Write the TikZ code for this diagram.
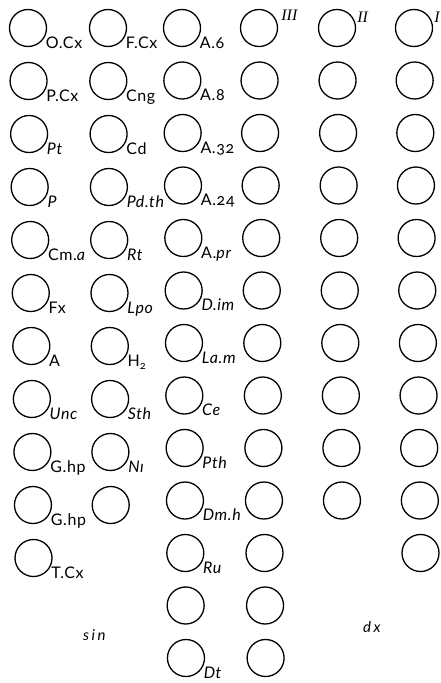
\documentclass[tikz,border=0pt]{standalone}
\usepackage{fontspec}
\setmainfont{Lato}[Numbers=OldStyle,LetterSpace=4]
\newfontfamily\romfont{Liberation Serif}
\usetikzlibrary{calc}
\begin{document}
\begin{tikzpicture}[x=1pt,y=-1pt,
  ring/.style={circle,draw,line width=1.3pt,minimum size=37pt,inner sep=0pt},
  lab/.style={inner sep=0pt,anchor=base west,font=\fontsize{16}{18}\selectfont},
  rom/.style={inner sep=0pt,anchor=base west,font=\fontsize{16}{18}\selectfont\romfont\itshape},
  note/.style={inner sep=0pt,anchor=base west,font=\fontsize{15}{18}\selectfont\itshape}]
\useasboundingbox (0,0) rectangle (440,683);
% column 1
\foreach \r/\t in {1/O.Cx,2/P.Cx,3/\textit{Pt},4/\textit{P},5/Cm.\textit{a},6/Fx,7/A,8/\textit{Unc},9/G.hp,10/G.hp,11/T.Cx}{
  \node[ring] (a\r) at ({28+0.55*(\r-1)},{28+53*(\r-1)}) {};
  \node[lab] (la\r) at ($(a\r.east |- a\r.south)+(-1.5,1)$) {\t};
}
% column 2
\foreach \r/\t in {1/F.Cx,2/Cng,3/Cd,4/\textit{Pd.th},5/\textit{Rt},6/\textit{Lpo},7/H\raisebox{-3pt}{\fontsize{11}{12}\selectfont 2},8/\textit{Sth},9/\textit{N\i}}{
  \node[ring] (b\r) at ({108+0.3*(\r-1)},{28+53*(\r-1)}) {};
  \node[lab] (lb\r) at ($(b\r.east |- b\r.south)+(-1.5,1)$) {\t};
}
\node[ring] (b10) at ({108+0.3*9},{28+53*9}) {};
% column 3
\foreach \r/\t in {1/A.6,2/A.8,3/A.32,4/A.24,5/A.\textit{pr},6/\textit{D.im},7/\textit{La.m},8/\textit{Ce},9/\textit{Pth},10/\textit{Dm.h},11/\textit{Ru},13/\textit{Dt}}{
  \node[ring] (c\r) at ({182+0.33*(\r-1)},{28+52.5*(\r-1)}) {};
  \node[lab] (lc\r) at ($(c\r.east |- c\r.south)+(-1.5,1)$) {\t};
}
\node[ring] (c12) at ({182+0.33*11},{28+52.5*11}) {};
% column 4 (III)
\foreach \r in {1,...,13}{
  \node[ring] (d\r) at ({259+0.55*(\r-1)},{28+52.5*(\r-1)}) {};
}
% column 5 (II)
\foreach \r in {1,...,10}{
  \node[ring] (e\r) at ({337+0.55*(\r-1)},{28+52.5*(\r-1)}) {};
}
% column 6 (I)
\foreach \r in {1,...,11}{
  \node[ring] (f\r) at ({414+0.65*(\r-1)},{28+52.5*(\r-1)}) {};
}
\node[rom] (n3) at ($(d1.east)+(3,-8)$) {III};
\node[rom] (n2) at ($(e1.east)+(1,-6)$) {II};
\node[rom] (n1) at ($(f1.east)+(1,-6)$) {I};
\node[note] (sin) at (83,640) {s\,i\,n};
\node[note] (dx) at (363,632) {d\,x};
\end{tikzpicture}
\end{document}
